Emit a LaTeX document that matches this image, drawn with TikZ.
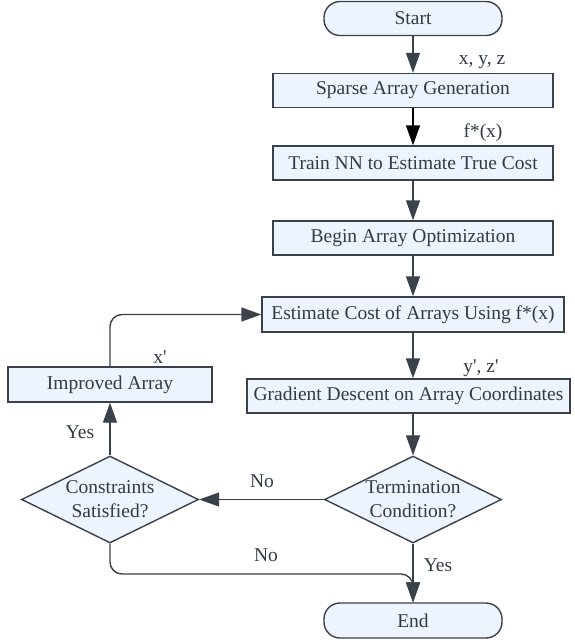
\documentclass[tikz,border=0pt]{standalone}
\usepackage{fontspec}
\setmainfont{Liberation Serif}
\usepackage{xcolor}
\usetikzlibrary{shapes,calc,arrows.meta,positioning}
\definecolor{mfill}{HTML}{EDF4FE}
\definecolor{mline}{HTML}{3A414A}
\definecolor{mtext}{HTML}{333A44}
\tikzstyle{l2}=[line width=1.4]
\tikzstyle{txt}=[font=\fontsize{19.5}{24}\selectfont, text=mtext]
\tikzstyle{box}=[rectangle, draw=mline, fill=mfill, l2, txt, minimum width=280, minimum height=34, inner sep=0pt]
\tikzstyle{term}=[box, rounded corners=16, minimum width=178]
\tikzstyle{cond}=[diamond, draw=mline, fill=mfill, l2, txt, align=center, aspect=2, inner sep=-8pt, minimum width=177, minimum height=87]
\tikzstyle{lbl}=[txt, inner sep=0pt]
\tikzstyle{arr}=[l2, draw=mline, -{Triangle[length=20pt, width=14pt]}]

\begin{document}
\begin{tikzpicture}[x=1pt, y=-1pt]
    \useasboundingbox (0,0) rectangle (574,641);
    % main column
    \node[term] at (413,18.5) (1) {Start};
    \node[box] at (413,90.5) (2) {Sparse Array Generation};
    \node[box] at (413,163) (3) {Train NN to Estimate True Cost};
    \node[box] at (413,238) (4) {Begin Array Optimization};
    \node[box, minimum width=302, minimum height=35] at (413,314.5) (5) {Estimate Cost of Arrays Using f*(x)};
    \node[box, minimum width=323] at (408.5,396) (6) {Gradient Descent on Array Coordinates};
    \node[box, minimum width=204, minimum height=35] at (110,384.5) (7) {Improved Array};
    \node[cond] at (413,499.5) (8) {Termination\\Condition?};
    \node[cond] at (110,499.5) (9) {Constraints\\Satisfied?};
    \node[term, minimum height=35] at (413,620.5) (10) {End};
    \coordinate (j) at (413,574);

    \node[lbl] at (482,62) (t1) {x, y, z};
    \node[lbl] at (483,133) (t2) {f*(x)};
    \node[lbl] at (481,368) (t3) {y\textquotesingle, z\textquotesingle};
    \node[lbl] at (160,357) (t4) {x\textquotesingle};
    \node[lbl] at (262,481) (t5) {No};
    \node[lbl] at (80,432) (t6) {Yes};
    \node[lbl] at (438,565) (t7) {Yes};
    \node[lbl] at (266,555) (t8) {No};

    \draw[arr] (1) -- (2);
    \draw[arr, draw=black] (2) -- (3);
    \draw[arr] (3) -- (4);
    \draw[arr] (4) -- (5);
    \draw[arr] (5.south) -- (5.south |- 6.north);
    \draw[arr] (8.north |- 6.south) -- (8.north);
    \draw[arr] (8) -- (9);
    \draw[arr] (9) -- (7);
    \draw[arr, rounded corners=12] (7.north) |- (5.west);
    \draw[arr] (8) -- (10);
    \draw[arr, rounded corners=12] (9.south) |- (j) -- (10.north);
\end{tikzpicture}
\end{document}
